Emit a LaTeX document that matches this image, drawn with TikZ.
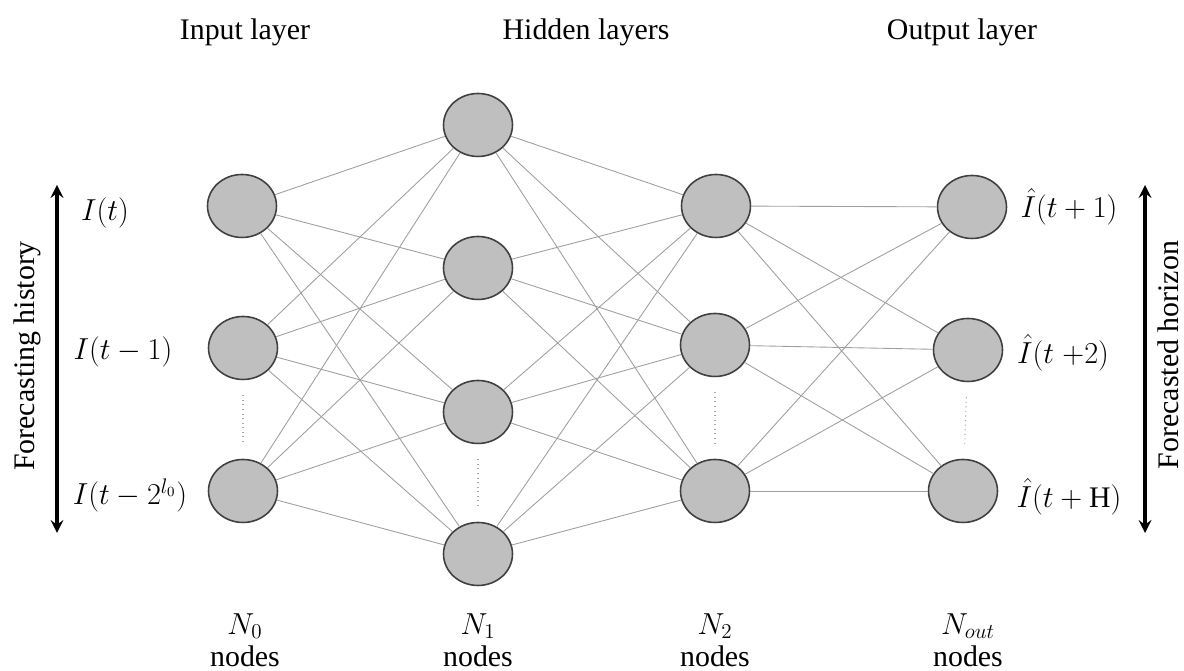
\documentclass[tikz,border=0pt]{standalone}
\usepackage{amsmath, tkz-euclide}
\usepackage{fontspec}
\setmainfont{Liberation Serif}
\usetikzlibrary{shapes.geometric}
\tikzset{>=stealth}

\begin{document}
\begin{tikzpicture}[x=0.02cm, y=0.02cm,
    neuron/.style={ellipse, draw=black!75, line width=0.9pt, fill=gray!50,
        minimum width=1.38cm, minimum height=1.26cm, inner sep=0pt},
    link/.style={gray!75, line width=0.5pt},
    gap/.style={gray!70, dotted, line width=0.6pt, shorten >=0.3cm, shorten <=0.3cm},
    txt/.style={font=\fontsize{17}{18}\selectfont, inner sep=0pt}]
    \useasboundingbox (0,0) rectangle (1184,671);
    % input layer
    \node[neuron] (I1) at (242,465) {};
    \node[neuron] (I2) at (243,323) {};
    \node[neuron] (I3) at (243,180) {};
    % hidden layers
    \node[neuron] (A1) at (478,546) {};
    \node[neuron] (A2) at (478,403) {};
    \node[neuron] (A3) at (478,259) {};
    \node[neuron] (A4) at (478,117) {};
    \node[neuron] (B1) at (716,465) {};
    \node[neuron] (B2) at (715,326) {};
    \node[neuron] (B3) at (715,180) {};
    % output layer
    \node[neuron] (O1) at (972,464) {};
    \node[neuron] (O2) at (968,321) {};
    \node[neuron] (O3) at (963,180) {};
    \foreach \i in {1,2,3}
        \foreach \j in {1,...,4}
            \draw[link] (I\i) -- (A\j);
    \foreach \i in {1,...,4}
        \foreach \j in {1,2,3}
            \draw[link] (A\i) -- (B\j);
    \foreach \i in {1,2,3}
        \foreach \j in {1,2,3}
            \draw[link] (B\i) -- (O\j);
    \draw[gap] (I2) -- (I3);
    \draw[gap] (A3) -- (A4);
    \draw[gap] (B2) -- (B3);
    \draw[gap] (O2) -- (O3);
    \tkzDefPoints{57/486/P, 57/138/Q, 1145/486/R, 1145/138/S}
    \draw[<->, >=stealth, line width=2.2pt] (P) -- (Q);
    \draw[<->, >=stealth, line width=2.2pt] (R) -- (S);
   %\tkzLabelPoints(P,Q,R,S)
    \node[txt] (ti) at (245,639) {Input layer};
    \node[txt] (th) at (586,639) {Hidden layers};
    \node[txt] (to) at (962,639) {Output layer};
    \node[txt] (li1) at (105,458) {$I(t)$};
    \node[txt] (li2) at (123,319) {$I(t-1)$};
    \node[txt] (li3) at (130,176) {$I(t-2^{l_0})$};
    \node[txt] (lo1) at (1069,464) {$\hat{I}(t+1)$};
    \node[txt] (lo2) at (1063,318) {$\hat{I}(t\;{+}2)$};
    \node[txt] (lo3) at (1069,174) {$\hat{I}(t+\mathrm{H})$};
    \node[txt, rotate=90] (fh) at (27,315) {Forecasting history};
    \node[txt, rotate=90] (fz) at (1168,316) {Forecasted horizon};
    \node[txt, align=center] (n0) at (245,31) {$N_0$\\nodes};
    \node[txt, align=center] (n1) at (478,31) {$N_1$\\nodes};
    \node[txt, align=center] (n2) at (715,31) {$N_2$\\nodes};
    \node[txt, align=center] (n3) at (968,31) {$N_{out}$\\nodes};
\end{tikzpicture}
\end{document}
